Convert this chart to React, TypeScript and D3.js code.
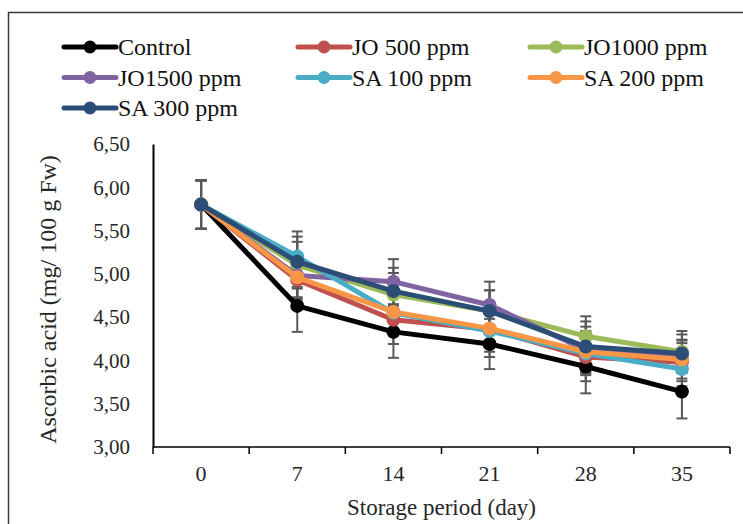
import React, { useEffect, useRef } from 'react';
import * as d3 from 'd3';

const days = ['0', '7', '14', '21', '28', '35'];
const seriesNames = ['Control', 'JO 500 ppm', 'JO1000 ppm', 'JO1500 ppm', 'SA 100 ppm', 'SA 200 ppm', 'SA 300 ppm'];
const seriesColors = ['#000000', '#C0504D', '#9BBB59', '#8064A2', '#4BACC6', '#F79646', '#2C4D75'];

const control = [5.8, 4.63, 4.33, 4.19, 3.93, 3.64];
const jo500 = [5.8, 4.93, 4.47, 4.36, 4.04, 3.98];
const jo1000 = [5.8, 5.1, 4.76, 4.57, 4.28, 4.1];
const jo1500 = [5.8, 4.98, 4.91, 4.64, 4.12, 4.05];
const sa100 = [5.8, 5.2, 4.55, 4.34, 4.08, 3.9];
const sa200 = [5.8, 4.96, 4.56, 4.37, 4.1, 4.01];
const sa300 = [5.8, 5.14, 4.8, 4.57, 4.16, 4.08];

// error bar half-lengths
const controlErr = [0.28, 0.3, 0.3, 0.29, 0.31, 0.31];
const jo500Err = [0.28, 0.25, 0.28, 0.26, 0.28, 0.22];
const jo1000Err = [0.28, 0.27, 0.25, 0.24, 0.23, 0.24];
const jo1500Err = [0.28, 0.25, 0.26, 0.27, 0.27, 0.19];
const sa100Err = [0.28, 0.29, 0.22, 0.3, 0.25, 0.2];
const sa200Err = [0.28, 0.25, 0.24, 0.22, 0.24, 0.22];
const sa300Err = [0.28, 0.29, 0.27, 0.24, 0.29, 0.22];

const yTicks = [3, 3.5, 4, 4.5, 5, 5.5, 6, 6.5];

const values = [control, jo500, jo1000, jo1500, sa100, sa200, sa300];
const errors = [controlErr, jo500Err, jo1000Err, jo1500Err, sa100Err, sa200Err, sa300Err];

const font = "'Liberation Serif', 'Times New Roman', serif";
const fmt = (v: number) => d3.format('.2f')(v).replace('.', ',');

const YAxis = ({ scale, left }: { scale: d3.ScaleLinear<number, number>; left: number }) => {
	const axis = useRef<SVGGElement>(null);
	useEffect(() => {
		const g = d3.select(axis.current!);
		g.call(d3.axisLeft(scale).tickValues(yTicks).tickSize(0).tickPadding(23).tickFormat((d) => fmt(+d)));
		g.attr('font-family', null).attr('font-size', null);
		g.select('.domain').attr('stroke', '#000').attr('stroke-width', 2);
		g.selectAll('text').style('font-family', font).style('font-size', '21px').attr('fill', '#262626');
	}, []);
	return <g ref={axis} transform={`translate(${left},0)`} />;
};

const XAxis = ({ scale, top }: { scale: d3.ScaleBand<string>; top: number }) => {
	const axis = useRef<SVGGElement>(null);
	useEffect(() => {
		const g = d3.select(axis.current!);
		g.call(d3.axisBottom(scale).tickSize(0).tickPadding(18));
		g.attr('font-family', null).attr('font-size', null);
		g.select('.domain').remove();
		g.selectAll('text').style('font-family', font).style('font-size', '22px').attr('fill', '#262626');
	}, []);
	const edges = [...scale.domain().map((d) => scale(d)!), scale.range()[1]];
	return (
		<g>
			<g ref={axis} transform={`translate(0,${top})`} />
			<line x1={scale.range()[0]} x2={scale.range()[1]} y1={top} y2={top} stroke="#000" strokeWidth={1.5} />
			{edges.map((e, i) => (
				<line key={i} x1={e} x2={e} y1={top} y2={top + 7} stroke="#000" strokeWidth={1.5} />
			))}
		</g>
	);
};

const App = () => {
	const width = 743;
	const height = 524;
	const left = 153;
	const right = 730;
	const top = 144;
	const bottom = 447;

	const x = d3.scaleBand().domain(days).range([left, right]);
	const y = d3.scaleLinear().domain([3, 6.5]).range([bottom, top]);
	const cx = (d: string) => x(d)! + x.bandwidth() / 2;

	const line = d3
		.line<number>()
		.x((_, i) => cx(days[i]))
		.y((v) => y(v));

	return (
		<svg width={width} height={height} style={{ position: 'absolute', left: 0, top: 0, background: '#fff', fontFamily: font }}>
			<rect x={8.5} y={12.5} width={800} height={600} fill="#fff" stroke="#3a3a3a" strokeWidth={1.5} />

			{/* legend */}
			{seriesNames.map((name, i) => {
				const lx = [64, 298, 530][i % 3];
				const ly = 47 + Math.floor(i / 3) * 30.5;
				return (
					<g key={name}>
						<line x1={lx} x2={lx + 52} y1={ly} y2={ly} stroke={seriesColors[i]} strokeWidth={5} strokeLinecap="round" />
						<circle cx={lx + 26} cy={ly} r={6.5} fill={seriesColors[i]} />
						<text x={lx + 54} y={ly} dy="0.35em" style={{ fontFamily: font, fontSize: 24 }} fill="#111">
							{name}
						</text>
					</g>
				);
			})}

			<YAxis scale={y} left={left} />
			<XAxis scale={x} top={bottom} />

			{/* error bars */}
			{values.map((vals, s) =>
				vals.map((v, i) => {
					const px = cx(days[i]);
					const e = errors[s][i];
					return (
						<g key={`e${s}-${i}`} stroke="#595959" strokeWidth={2}>
							<line x1={px} x2={px} y1={y(v + e)} y2={y(v - e)} />
							<line x1={px - 5.5} x2={px + 5.5} y1={y(v + e)} y2={y(v + e)} />
							<line x1={px - 5.5} x2={px + 5.5} y1={y(v - e)} y2={y(v - e)} />
						</g>
					);
				})
			)}

			{/* series */}
			{values.map((vals, s) => (
				<g key={seriesNames[s]}>
					<path d={line(vals)!} fill="none" stroke={seriesColors[s]} strokeWidth={5} strokeLinejoin="round" />
					{vals.map((v, i) => (
						<circle key={i} cx={cx(days[i])} cy={y(v)} r={7} fill={seriesColors[s]} />
					))}
				</g>
			))}

			<text
				transform={`translate(48,${(top + bottom) / 2 + 4}) rotate(-90)`}
				textAnchor="middle"
				dy="0.35em"
				style={{ fontFamily: font, fontSize: 24 }}
				fill="#262626"
			>
				Ascorbic acid (mg/ 100 g Fw)
			</text>
			<text x={(left + right) / 2} y={507} textAnchor="middle" dy="0.35em" style={{ fontFamily: font, fontSize: 23 }} fill="#262626">
				Storage period (day)
			</text>
		</svg>
	);
};

export default App;
